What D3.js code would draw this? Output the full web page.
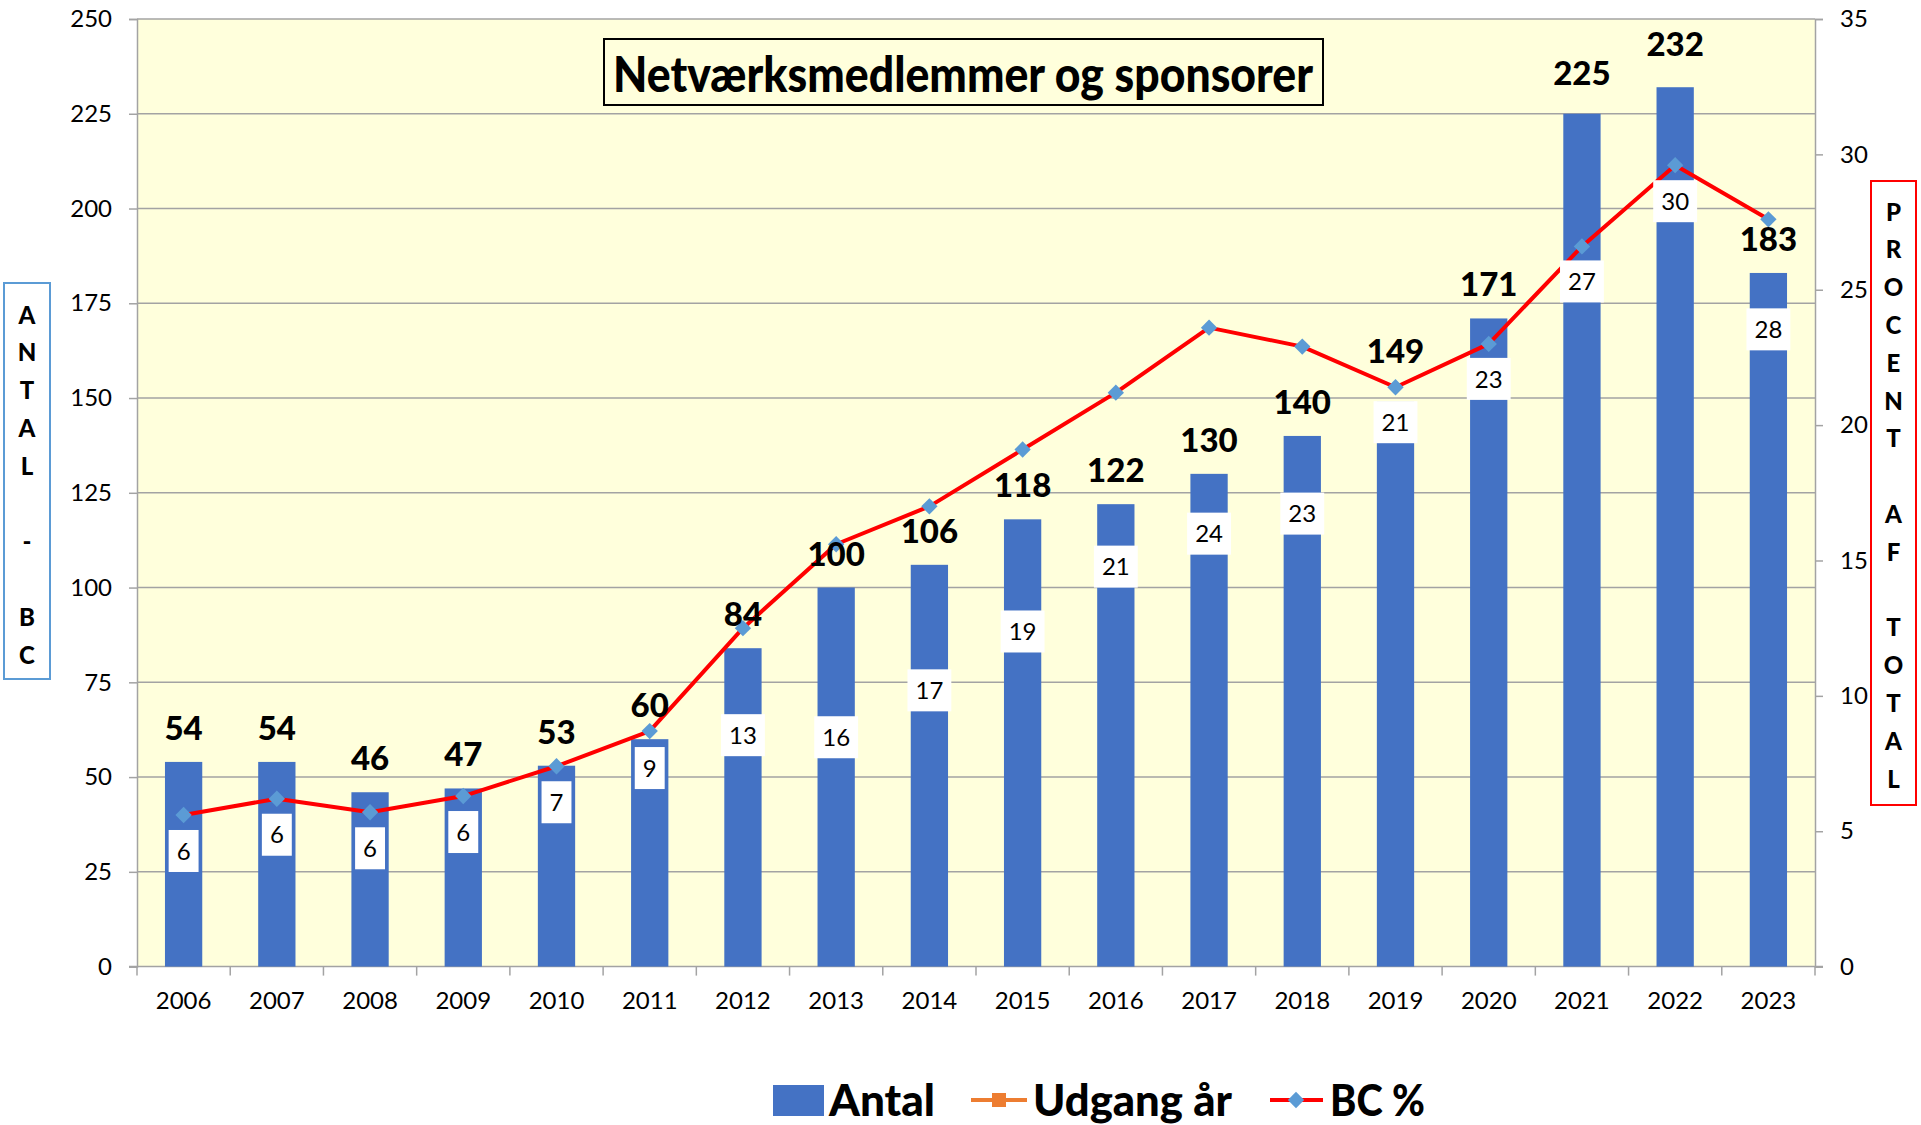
<!DOCTYPE html>
<html>
<head>
<meta charset="utf-8">
<script src="https://cdn.jsdelivr.net/npm/d3@7"></script>
<style>
  body { margin: 0; background: #fff; }
  svg { display: block; }
</style>
</head>
<body>
<div id="chart"></div>
<script>
// Netværksmedlemmer og sponsorer — bars (Antal) + BC % line on a right axis

const years = ['2006', '2007', '2008', '2009', '2010', '2011', '2012', '2013', '2014',
               '2015', '2016', '2017', '2018', '2019', '2020', '2021', '2022', '2023'];
const antal = [54, 54, 46, 47, 53, 60, 84, 100, 106, 118, 122, 130, 140, 149, 171, 225, 232, 183];
const bcPct = [5.6, 6.2, 5.7, 6.3, 7.4, 8.7, 12.5, 15.6, 17.0, 19.1, 21.2, 23.6, 22.9, 21.4, 23.0, 26.6, 29.6, 27.6];
const leftTicks = [0, 25, 50, 75, 100, 125, 150, 175, 200, 225, 250];
const rightTicks = [0, 5, 10, 15, 20, 25, 30, 35];

// layout: label placement was done by hand in the original
const bcLabelShift = [36, 36, 36, 36, 36, 37, 107, 193, 184, 182, 174, 206, 167, 35, 35, 35, 36, 110];
const valueLabelLift = [0, 0, 0, 0, 0, 0, 0, 0, 0, 0, 0, 0, 0, 17, 0, 7, 9, 0];

const W = 1921, H = 1125;
const plot = { left: 137, right: 1815, top: 19, bottom: 966.6 };
const FONT = 'Lato, "Open Sans", sans-serif';
const GRID = '#a3a3a3';

const svg = d3.select('#chart').append('svg')
    .attr('width', W).attr('height', H)
    .attr('viewBox', `0 0 ${W} ${H}`);

svg.append('rect').attr('width', W).attr('height', H).attr('fill', '#fff');

const x = d3.scaleBand().domain(years)
    .range([plot.left, plot.right])
    .paddingInner(0.6).paddingOuter(0.3);
const yL = d3.scaleLinear().domain([0, 250]).range([plot.bottom, plot.top]);
const yR = d3.scaleLinear().domain([0, 35]).range([plot.bottom, plot.top]);
const cx = d => x(d) + x.bandwidth() / 2;

// plot background
svg.append('rect')
    .attr('x', plot.left).attr('y', plot.top)
    .attr('width', plot.right - plot.left).attr('height', plot.bottom - plot.top)
    .attr('fill', '#ffffdc');

// gridlines
svg.append('g').selectAll('line').data(leftTicks.slice(1)).enter().append('line')
    .attr('x1', plot.left).attr('x2', plot.right)
    .attr('y1', d => yL(d)).attr('y2', d => yL(d))
    .attr('stroke', GRID).attr('stroke-width', 1.5);

// left axis
const axL = svg.append('g').attr('transform', `translate(${plot.left},0)`)
    .call(d3.axisLeft(yL).tickValues(leftTicks).tickSize(8).tickPadding(17));
axL.select('.domain').attr('stroke', GRID).attr('stroke-width', 1.5);
axL.selectAll('line').attr('stroke', GRID).attr('stroke-width', 1.5);
axL.selectAll('text').attr('font-family', FONT).attr('font-size', '24px').attr('fill', '#000');

// right axis
const axR = svg.append('g').attr('transform', `translate(${plot.right},0)`)
    .call(d3.axisRight(yR).tickValues(rightTicks).tickSize(8).tickPadding(17));
axR.select('.domain').attr('stroke', GRID).attr('stroke-width', 1.5);
axR.selectAll('line').attr('stroke', GRID).attr('stroke-width', 1.5);
axR.selectAll('text').attr('font-family', FONT).attr('font-size', '24px').attr('fill', '#000');

// bottom axis: labels centred, ticks on category boundaries
const axB = svg.append('g').attr('transform', `translate(0,${plot.bottom})`)
    .call(d3.axisBottom(x).tickSize(0).tickPadding(25));
axB.select('.domain').remove();
axB.selectAll('text').attr('font-family', FONT).attr('font-size', '24px').attr('fill', '#000');
svg.append('line')
    .attr('x1', plot.left - 8).attr('x2', plot.right + 8)
    .attr('y1', plot.bottom).attr('y2', plot.bottom)
    .attr('stroke', GRID).attr('stroke-width', 1.5);
svg.append('g').selectAll('line').data(d3.range(years.length + 1)).enter().append('line')
    .attr('x1', i => plot.left + i * x.step()).attr('x2', i => plot.left + i * x.step())
    .attr('y1', plot.bottom).attr('y2', plot.bottom + 9)
    .attr('stroke', GRID).attr('stroke-width', 1.5);

// bars
svg.append('g').selectAll('rect').data(years).enter().append('rect')
    .attr('x', d => x(d))
    .attr('y', (d, i) => yL(antal[i]))
    .attr('width', x.bandwidth())
    .attr('height', (d, i) => yL(0) - yL(antal[i]))
    .attr('fill', '#4472c4');

// BC % line
const line = d3.line().x((d, i) => cx(years[i])).y(d => yR(d));
svg.append('path').datum(bcPct)
    .attr('d', line)
    .attr('fill', 'none').attr('stroke', '#ff0000').attr('stroke-width', 4)
    .attr('stroke-linejoin', 'round');

const diamond = d3.symbol().type(d3.symbolDiamond2).size(170);
svg.append('g').selectAll('path').data(bcPct).enter().append('path')
    .attr('d', diamond)
    .attr('transform', (d, i) => `translate(${cx(years[i])},${yR(d)})`)
    .attr('fill', '#5b9bd5');

// BC % labels (white boxes)
const bcLab = svg.append('g').selectAll('g').data(bcPct).enter().append('g')
    .attr('transform', (d, i) => `translate(${cx(years[i])},${yR(d) + bcLabelShift[i]})`);
bcLab.append('text')
    .attr('text-anchor', 'middle').attr('dy', '0.36em')
    .attr('font-family', FONT).attr('font-size', '24px').attr('fill', '#000')
    .text(d => Math.round(d));
bcLab.each(function () {
    const g = d3.select(this);
    const bb = g.select('text').node().getBBox();
    g.insert('rect', 'text')
        .attr('x', -bb.width / 2 - 8).attr('y', -21)
        .attr('width', bb.width + 16).attr('height', 42)
        .attr('fill', '#fff');
});

// Antal value labels
svg.append('g').selectAll('text').data(antal).enter().append('text')
    .attr('x', (d, i) => cx(years[i]))
    .attr('y', (d, i) => yL(d) - 22 - valueLabelLift[i])
    .attr('text-anchor', 'middle')
    .attr('font-family', FONT).attr('font-size', '33px').attr('font-weight', 900)
    .attr('fill', '#000')
    .text(d => d);

// title box
const titleG = svg.append('g');
titleG.append('rect')
    .attr('x', 604).attr('y', 39).attr('width', 719).attr('height', 66)
    .attr('fill', '#ffffdc').attr('stroke', '#000').attr('stroke-width', 2);
titleG.append('text')
    .attr('x', 963).attr('y', 92)
    .attr('text-anchor', 'middle')
    .attr('font-family', FONT).attr('font-size', '50px').attr('font-weight', 900)
    .attr('textLength', 700).attr('lengthAdjust', 'spacingAndGlyphs')
    .text('Netværksmedlemmer og sponsorer');

// vertical axis titles, one letter per line
function stackedTitle(str, bx, by, bw, bh, stroke, firstY) {
    svg.append('rect')
        .attr('x', bx).attr('y', by).attr('width', bw).attr('height', bh)
        .attr('fill', '#fff').attr('stroke', stroke).attr('stroke-width', 2);
    svg.append('g').selectAll('text').data(str.split('')).enter().append('text')
        .attr('x', bx + bw / 2)
        .attr('y', (c, i) => firstY + i * 37.8)
        .attr('dy', '0.36em')
        .attr('text-anchor', 'middle')
        .attr('font-family', FONT).attr('font-size', '24px').attr('font-weight', 900)
        .attr('fill', '#000')
        .text(c => c);
}
stackedTitle('ANTAL - BC', 4, 283, 46, 396, '#5b9bd5', 315);
stackedTitle('PROCENT AF TOTAL', 1871, 181, 45, 624, '#ff0000', 212);

// legend
const lg = svg.append('g');
const legY = 1100;
lg.append('rect').attr('x', 773).attr('y', 1085).attr('width', 51).attr('height', 31).attr('fill', '#4472c4');
lg.append('text').attr('x', 829).attr('y', 1116)
    .attr('font-family', FONT).attr('font-size', '44px').attr('font-weight', 900)
    .attr('textLength', 106).attr('lengthAdjust', 'spacingAndGlyphs').text('Antal');

lg.append('line').attr('x1', 971).attr('x2', 1027).attr('y1', legY).attr('y2', legY)
    .attr('stroke', '#ed7d31').attr('stroke-width', 4);
lg.append('rect').attr('x', 992).attr('y', legY - 7).attr('width', 14).attr('height', 14).attr('fill', '#ed7d31');
lg.append('text').attr('x', 1033).attr('y', 1116)
    .attr('font-family', FONT).attr('font-size', '44px').attr('font-weight', 900)
    .attr('textLength', 199).attr('lengthAdjust', 'spacingAndGlyphs').text('Udgang år');

lg.append('line').attr('x1', 1270).attr('x2', 1323).attr('y1', legY).attr('y2', legY)
    .attr('stroke', '#ff0000').attr('stroke-width', 4);
lg.append('path').attr('d', diamond).attr('transform', `translate(1296,${legY})`).attr('fill', '#5b9bd5');
lg.append('text').attr('x', 1330).attr('y', 1116)
    .attr('font-family', FONT).attr('font-size', '44px').attr('font-weight', 900)
    .attr('textLength', 95).attr('lengthAdjust', 'spacingAndGlyphs').text('BC %');
</script>
</body>
</html>
